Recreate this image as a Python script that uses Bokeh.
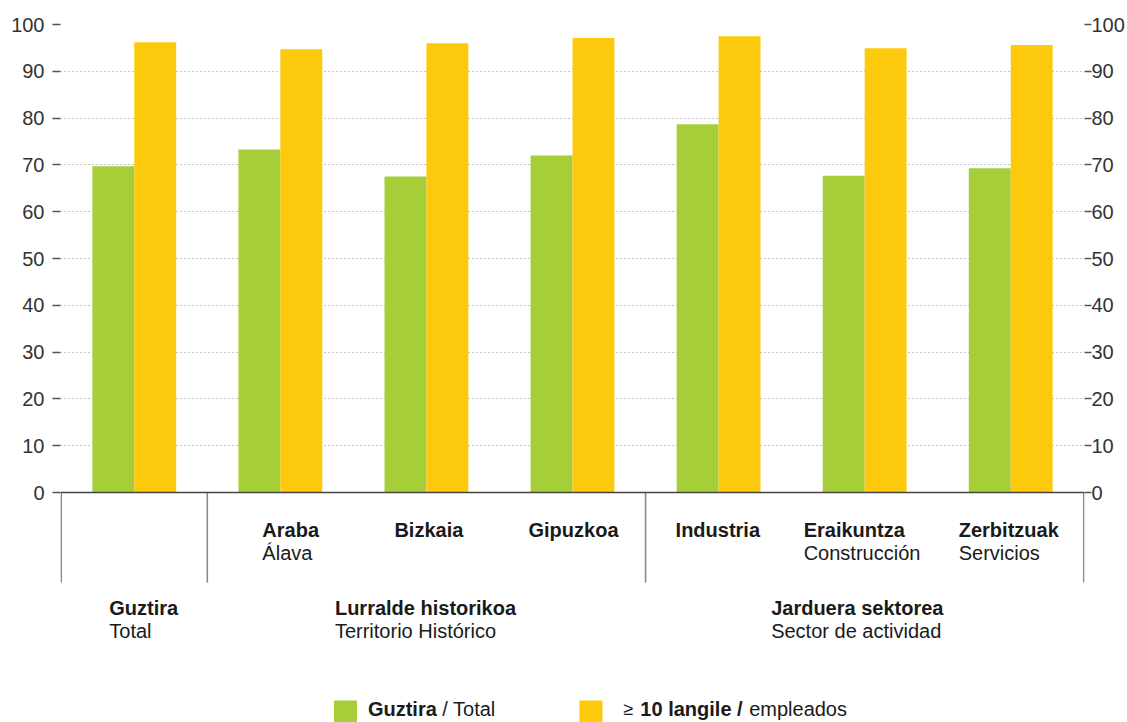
import numpy as np
from bokeh.plotting import figure
from bokeh.models import Range1d, LinearAxis, FixedTicker, Span
from bokeh.core.properties import value
from bokeh.embed import file_html
from bokeh.resources import INLINE

# ---------------- data ----------------
categories = ["Guztira", "Araba", "Bizkaia", "Gipuzkoa", "Industria", "Eraikuntza", "Zerbitzuak"]
cat_bold = ["", "Araba", "Bizkaia", "Gipuzkoa", "Industria", "Eraikuntza", "Zerbitzuak"]
cat_sub = ["", "Álava", "", "", "", "Construcción", "Servicios"]
total_values = [69.7, 73.3, 67.5, 72.0, 78.7, 67.7, 69.3]
ge10_values = [96.2, 94.7, 96.0, 97.1, 97.5, 94.9, 95.6]
group_bold = ["Guztira", "Lurralde historikoa", "Jarduera sektorea"]
group_sub = ["Total", "Territorio Histórico", "Sector de actividad"]
group_sizes = [1, 3, 3]
y_ticks = list(range(0, 101, 10))
legend_bold = ["Guztira", "10 langile /"]
legend_normal = ["/ Total", "empleados"]
legend_prefix = "≥"

# ---------------- style / layout ----------------
GREEN = "#A6CE39"
YELLOW = "#FDC90D"
TEXT = "#1a1a1a"
FONT = value("Liberation Sans")
W, H = 1127, 722
FRAME_LEFT, FRAME_RIGHT = 60, 1086
FRAME_TOP = 24
Y0_PX = 492                      # pixel row of y = 0
PPU = (Y0_PX - FRAME_TOP) / 100  # pixels per y unit
X_PAD = 0.005
GROUP_PX = (FRAME_RIGHT - FRAME_LEFT) / (7 + 2 * X_PAD)
TXT_DY = 8                       # svg text baseline correction (px)


def ypx(px):
    return (Y0_PX - px) / PPU


def ytxt(px):
    return ypx(px - TXT_DY)


def xpx(px):
    return (px - FRAME_LEFT) / GROUP_PX - X_PAD


y_bottom = ypx(H)
bar_w = 42 / GROUP_PX

p = figure(width=W, height=H,
           x_range=Range1d(-X_PAD, 7 + X_PAD), y_range=Range1d(y_bottom, 100),
           x_axis_type=None, output_backend="svg", toolbar_location=None,
           min_border_left=FRAME_LEFT, min_border_right=W - FRAME_RIGHT,
           min_border_top=FRAME_TOP, min_border_bottom=0,
           outline_line_color=None)


def style_axis(ax, standoff, tick_out):
    ax.ticker = FixedTicker(ticks=y_ticks, minor_ticks=[])
    ax.axis_line_color = None
    ax.major_tick_in = 0
    ax.major_tick_out = tick_out
    ax.major_tick_line_color = "#555555"
    ax.major_tick_line_width = 1.5
    ax.minor_tick_line_color = None
    ax.major_label_standoff = standoff
    ax.major_label_text_font = "Liberation Sans"
    ax.major_label_text_font_size = "20px"
    ax.major_label_text_color = "#333333"


style_axis(p.yaxis[0], 8, 8)
right_axis = LinearAxis()
style_axis(right_axis, 0, 7)
p.add_layout(right_axis, "right")

p.xgrid.visible = False
p.ygrid.ticker = FixedTicker(ticks=[t for t in y_ticks if t > 0])
p.ygrid.grid_line_color = "#8a8a8a"
p.ygrid.grid_line_dash = "1 3"
p.ygrid.grid_line_width = 1

# bars
idx = np.arange(len(categories))
centers = idx + 0.5
p.vbar(x=centers - bar_w / 2, top=total_values, width=bar_w, fill_color=GREEN, line_color=None)
p.vbar(x=centers + bar_w / 2, top=ge10_values, width=bar_w, fill_color=YELLOW, line_color=None)

# baseline
p.add_layout(Span(location=0, dimension="width", line_color="#444444", line_width=1.3))

# separators between groups
bounds = np.cumsum([0] + group_sizes).astype(float)
p.segment(x0=bounds, y0=[0] * len(bounds), x1=bounds, y1=[ypx(582)] * len(bounds),
          line_color="#8a8a8a", line_width=1.6)

# category labels (left aligned block, shifted from group centre)
cat_shift_px = [0, -18, -32, -44, -43, -61, -52]
keep = [i for i in idx if cat_bold[i]]
p.text(x=[centers[i] for i in keep], y=[ytxt(537)] * len(keep),
       text=[cat_bold[i] for i in keep], x_offset=[cat_shift_px[i] for i in keep],
       text_font=FONT, text_font_style="bold", text_font_size="20px",
       text_color=TEXT, text_align="left", text_baseline="alphabetic")
keep2 = [i for i in idx if cat_sub[i]]
p.text(x=[centers[i] for i in keep2], y=[ytxt(560)] * len(keep2),
       text=[cat_sub[i] for i in keep2], x_offset=[cat_shift_px[i] for i in keep2],
       text_font=FONT, text_font_size="20px",
       text_color=TEXT, text_align="left", text_baseline="alphabetic")

# group titles
group_centers = (bounds[:-1] + bounds[1:]) / 2
group_shift_px = [-25, -91.5, -93.5]
p.text(x=group_centers, y=[ytxt(615)] * 3, text=group_bold, x_offset=group_shift_px,
       text_font=FONT, text_font_style="bold", text_font_size="20px",
       text_color=TEXT, text_align="left", text_baseline="alphabetic")
p.text(x=group_centers, y=[ytxt(638)] * 3, text=group_sub, x_offset=group_shift_px,
       text_font=FONT, text_font_size="20px",
       text_color=TEXT, text_align="left", text_baseline="alphabetic")

# legend (drawn below the chart)
leg_y_text = ytxt(716)
p.rect(x=[xpx(345.5), xpx(591.5)], y=[ypx(711)] * 2, width=23, height=22,
       width_units="screen", height_units="screen",
       fill_color=[GREEN, YELLOW], line_color=None)
p.text(x=[xpx(368), xpx(641)], y=[leg_y_text] * 2, text=legend_bold,
       text_font=FONT, text_font_style="bold", text_font_size="20px",
       text_color=TEXT, text_align="left", text_baseline="alphabetic")
p.text(x=[xpx(442.5), xpx(750)], y=[leg_y_text] * 2, text=legend_normal,
       text_font=FONT, text_font_size="20px",
       text_color=TEXT, text_align="left", text_baseline="alphabetic")
p.text(x=[xpx(624)], y=[leg_y_text], text=[legend_prefix],
       text_font=FONT, text_font_size="18px",
       text_color=TEXT, text_align="left", text_baseline="alphabetic")

open("out.html", "w").write(file_html(p, INLINE))
